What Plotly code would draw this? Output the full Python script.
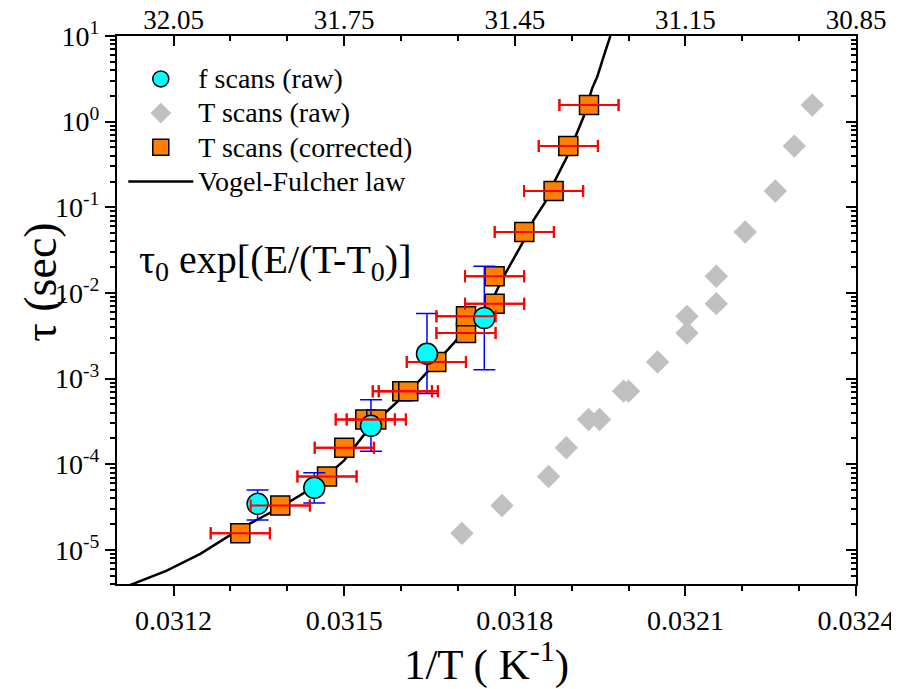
import plotly.graph_objects as go
import math

# ---- data ----
# Vogel-Fulcher law curve
vf_x = [0.031124, 0.031187, 0.031247, 0.031317, 0.031388, 0.031446, 0.031500, 0.031547,
        0.031622, 0.031692, 0.031763, 0.031780, 0.031816, 0.031833, 0.031854, 0.031868,
        0.031892, 0.031921, 0.031936, 0.031945, 0.031956, 0.031968]
vf_tau = [3.9e-6, 5.7e-6, 9.0e-6, 1.76e-5, 3.15e-5, 5.4e-5, 1.11e-4, 2.8e-4,
          8.0e-4, 2.56e-3, 9.0e-3, 1.54e-2, 4.1e-2, 7.1e-2, 0.116, 0.19,
          0.39, 1.14, 2.45, 3.34, 5.7, 10.0]

# T scans: tau values (shared by raw and corrected)
tau_T = [1.56e-5, 3.30e-5, 7.2e-5, 1.56e-4, 3.33e-4, 3.33e-4, 7.14e-4, 7.14e-4, 1.56e-3,
         3.40e-3, 5.33e-3, 7.5e-3, 1.57e-2, 5.15e-2, 0.155, 0.518, 1.56]
# T scans (corrected) 1/T
x_T_corr = [0.0313173, 0.0313876, 0.0314698, 0.0315002, 0.0315371, 0.0315564, 0.0316022,
            0.0316127, 0.0316620, 0.0317142, 0.0317142, 0.0317645, 0.0317645, 0.0318167,
            0.0318682, 0.0318941, 0.0319305]
x_T_corr_err = 5.2e-5
# T scans (raw) 1/T
x_T_raw = [0.0317071, 0.0317775, 0.0318594, 0.0318906, 0.0319298, 0.0319491, 0.0319913,
           0.0320001, 0.0320511, 0.0321028, 0.0321028, 0.0321543, 0.0321543, 0.0322053,
           0.0322581, 0.0322915, 0.0323231]

# f scans (raw)
x_f = [0.0313477, 0.0314474, 0.0315471, 0.0316456, 0.0317464]
tau_f = [3.45e-5, 5.31e-5, 2.81e-4, 1.95e-3, 5.1e-3]
tau_f_err_plus = [1.57e-5, 2.63e-5, 2.85e-4, 3.8e-3, 1.54e-2]
tau_f_err_minus = [1.21e-5, 1.77e-5, 1.39e-4, 1.28e-3, 3.83e-3]

# axis ticks
x_range = [0.0311005, 0.0324]
x_tickvals = [0.0312, 0.0315, 0.0318, 0.0321, 0.0324]
top_ticktext = ["32.05", "31.75", "31.45", "31.15", "30.85"]
y_tickvals = [1e-5, 1e-4, 1e-3, 1e-2, 1e-1, 1e0, 1e1]
y_ticktext = ["10<sup>-5</sup>", "10<sup>-4</sup>", "10<sup>-3</sup>", "10<sup>-2</sup>",
              "10<sup>-1</sup>", "10<sup>0</sup>", "10<sup>1</sup>"]
y_min = 4e-6
y_max = 10

FONT = "Liberation Serif"
TICK_SIZE = 28
y_range = [math.log10(y_min), math.log10(y_max)]
y_minor = [k * 10 ** n for n in range(-6, 1) for k in range(2, 10)]


def big(label):
    return f'<span style="font-size:28px">{label}</span>'


fig = go.Figure()

fig.add_trace(go.Scatter(
    x=vf_x, y=vf_tau, mode="lines", name=big("Vogel-Fulcher law"),
    line=dict(color="black", width=2.5), legendrank=4, legendgroup="d"))

fig.add_trace(go.Scatter(
    x=x_T_corr, y=tau_T, mode="markers", name=big("T scans (corrected)"),
    marker=dict(symbol="square", size=19, color="#FF8000", line=dict(color="black", width=1.5)),
    error_x=dict(type="constant", value=x_T_corr_err, color="#FF0000", thickness=2, width=6),
    legendrank=3, legendgroup="c"))

fig.add_trace(go.Scatter(
    x=x_f, y=tau_f, mode="markers", name=big("f scans (raw)"),
    marker=dict(symbol="circle", size=21, color="#00FFFF", line=dict(color="black", width=1.5)),
    error_y=dict(type="data", symmetric=False, array=tau_f_err_plus, arrayminus=tau_f_err_minus,
                 color="#0000FF", thickness=1.5, width=11),
    legendrank=1, legendgroup="a"))

# red error bars drawn again on top of the circles
fig.add_trace(go.Scatter(
    x=x_T_corr, y=tau_T, mode="markers", showlegend=False, hoverinfo="skip",
    marker=dict(size=1, color="rgba(0,0,0,0)"),
    error_x=dict(type="constant", value=x_T_corr_err, color="#FF0000", thickness=2, width=6)))

fig.add_trace(go.Scatter(
    x=x_T_raw, y=tau_T, mode="markers", name=big("T scans (raw)"), xaxis="x2", yaxis="y2",
    marker=dict(symbol="diamond", size=18, color="#C0C0C0", line=dict(width=0)),
    legendrank=2, legendgroup="b"))

axis_common = dict(showline=True, linewidth=2, linecolor="black", showgrid=False,
                   zeroline=False, tickcolor="black", tickwidth=1.5, ticklen=10,
                   automargin=False)

# the page adds an 8px body margin, so the figure is drawn 8px smaller
fig.update_layout(
    width=891, height=681,
    margin=dict(l=109, r=43, t=28, b=105),
    paper_bgcolor="white", plot_bgcolor="white",
    font=dict(family=FONT, color="black"),
    xaxis=dict(range=x_range, tickmode="array", tickvals=x_tickvals,
               ticktext=[f"{v:.4f}" for v in x_tickvals], ticks="outside",
               tickfont=dict(size=TICK_SIZE, family=FONT),
               minor=dict(ticks="outside", ticklen=5, tickwidth=1.5, tickcolor="black",
                          tickmode="linear", tick0=0.0311, dtick=0.0001, showgrid=False),
               title=dict(text="1/T ( K<sup>-1</sup>)", font=dict(size=43, family=FONT), standoff=8),
               **axis_common),
    xaxis2=dict(range=x_range, overlaying="x", side="top", anchor="y", tickmode="array",
                tickvals=x_tickvals, ticktext=top_ticktext, ticks="inside",
                tickfont=dict(size=27, family=FONT), ticklabelstandoff=-6,
                minor=dict(ticks="inside", ticklen=5, tickwidth=1.5, tickcolor="black",
                           tickmode="linear", tick0=0.0311, dtick=0.0001, showgrid=False),
                **axis_common),
    yaxis=dict(type="log", range=y_range, tickmode="array", tickvals=y_tickvals,
               ticktext=y_ticktext, ticks="outside", tickfont=dict(size=TICK_SIZE, family=FONT),
               minor=dict(ticks="outside", ticklen=5, tickwidth=1.5, tickcolor="black",
                          tickmode="array", tickvals=y_minor, showgrid=False),
               **axis_common),
    yaxis2=dict(type="log", range=y_range, overlaying="y", side="right", anchor="x",
                tickmode="array", tickvals=y_tickvals, showticklabels=False, ticks="inside",
                minor=dict(ticks="inside", ticklen=5, tickwidth=1.5, tickcolor="black",
                           tickmode="array", tickvals=y_minor, showgrid=False),
                **axis_common),
    legend=dict(x=0.0085, y=0.962, xanchor="left", yanchor="top", bgcolor="rgba(0,0,0,0)",
                font=dict(size=24, family=FONT), itemwidth=65, traceorder="grouped",
                tracegroupgap=0),
    showlegend=True,
)

# y-axis title
fig.add_annotation(
    x=-0.104, y=0.55, xref="paper", yref="paper", xanchor="center", yanchor="middle",
    text="τ (sec)", textangle=-90, showarrow=False,
    font=dict(size=46, family=FONT, color="black"))

fig.add_annotation(
    x=0.027, y=0.5876, xref="paper", yref="paper", xanchor="left", yanchor="middle",
    text="τ<sub>0</sub> exp[(E/(T-T<sub>0</sub>)]", showarrow=False,
    font=dict(size=40, family=FONT, color="black"))

fig.write_html("out.html")
